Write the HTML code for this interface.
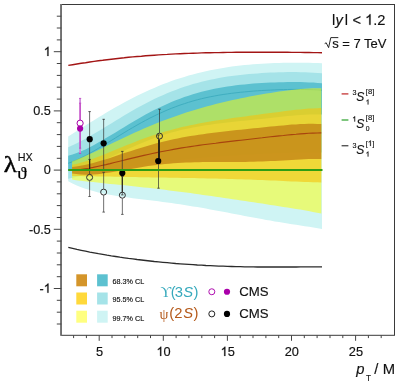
<!DOCTYPE html>
<html><head><meta charset="utf-8"><title>plot</title>
<style>html,body{margin:0;padding:0;background:#fff;}svg{display:block;will-change:transform;}text{font-kerning:normal;}</style>
</head><body>
<svg width="399" height="385" viewBox="0 0 399 385">
<rect x="0" y="0" width="399" height="385" fill="#fff"/>
<path d="M68.2,136.4 L72.5,133.7 L76.8,131.0 L81.1,128.3 L85.4,125.5 L89.7,122.8 L94.0,120.2 L98.3,117.5 L102.6,114.9 L106.9,112.3 L111.2,109.8 L115.5,107.3 L119.8,104.9 L124.1,102.5 L128.4,100.2 L132.7,98.0 L137.0,95.8 L141.3,93.7 L145.6,91.7 L149.9,89.7 L154.2,87.9 L158.5,86.1 L162.8,84.3 L167.1,82.7 L171.4,81.1 L175.7,79.6 L180.0,78.2 L184.3,76.9 L188.6,75.6 L192.9,74.4 L197.3,73.3 L201.6,72.2 L205.9,71.2 L210.2,70.3 L214.5,69.5 L218.8,68.7 L223.1,67.9 L227.4,67.2 L231.7,66.6 L236.0,66.1 L240.3,65.5 L244.6,65.1 L248.9,64.7 L253.2,64.3 L257.5,64.0 L261.8,63.7 L266.1,63.4 L270.4,63.2 L274.7,63.0 L279.0,62.9 L283.3,62.8 L287.6,62.7 L291.9,62.7 L296.2,62.7 L300.5,62.7 L304.8,62.8 L309.1,62.8 L313.4,63.0 L317.7,63.1 L322.0,63.3 L322.0,228.9 L317.7,228.2 L313.4,227.5 L309.1,226.8 L304.8,226.2 L300.5,225.5 L296.2,224.8 L291.9,224.2 L287.6,223.5 L283.3,222.8 L279.0,222.1 L274.7,221.4 L270.4,220.6 L266.1,219.9 L261.8,219.1 L257.5,218.3 L253.2,217.5 L248.9,216.7 L244.6,215.9 L240.3,215.1 L236.0,214.3 L231.7,213.5 L227.4,212.6 L223.1,211.8 L218.8,211.0 L214.5,210.2 L210.2,209.4 L205.9,208.6 L201.6,207.8 L197.3,207.1 L192.9,206.4 L188.6,205.7 L184.3,205.0 L180.0,204.3 L175.7,203.7 L171.4,203.1 L167.1,202.5 L162.8,201.9 L158.5,201.3 L154.2,200.8 L149.9,200.2 L145.6,199.7 L141.3,199.2 L137.0,198.7 L132.7,198.2 L128.4,197.6 L124.1,197.0 L119.8,196.4 L115.5,195.8 L111.2,195.0 L106.9,194.3 L102.6,193.4 L98.3,192.4 L94.0,191.3 L89.7,190.1 L85.4,188.7 L81.1,187.2 L76.8,185.4 L72.5,183.4 L68.2,181.2Z" fill="#cff4f4"/>
<path d="M68.2,147.2 L72.5,145.3 L76.8,143.3 L81.1,141.1 L85.4,138.8 L89.7,136.3 L94.0,133.8 L98.3,131.3 L102.6,128.7 L106.9,126.0 L111.2,123.4 L115.5,120.8 L119.8,118.2 L124.1,115.6 L128.4,113.0 L132.7,110.5 L137.0,108.1 L141.3,105.8 L145.6,103.5 L149.9,101.3 L154.2,99.1 L158.5,97.1 L162.8,95.2 L167.1,93.3 L171.4,91.6 L175.7,89.9 L180.0,88.3 L184.3,86.8 L188.6,85.4 L192.9,84.1 L197.3,82.9 L201.6,81.8 L205.9,80.7 L210.2,79.8 L214.5,78.9 L218.8,78.1 L223.1,77.3 L227.4,76.6 L231.7,76.0 L236.0,75.4 L240.3,74.9 L244.6,74.5 L248.9,74.0 L253.2,73.7 L257.5,73.4 L261.8,73.1 L266.1,72.8 L270.4,72.6 L274.7,72.4 L279.0,72.3 L283.3,72.2 L287.6,72.1 L291.9,72.1 L296.2,72.1 L300.5,72.2 L304.8,72.3 L309.1,72.4 L313.4,72.7 L317.7,73.0 L322.0,73.3 L322.0,152.5 L317.7,152.5 L313.4,152.5 L309.1,152.5 L304.8,152.5 L300.5,152.6 L296.2,152.7 L291.9,152.8 L287.6,152.9 L283.3,153.0 L279.0,153.2 L274.7,153.3 L270.4,153.5 L266.1,153.7 L261.8,153.9 L257.5,154.1 L253.2,154.4 L248.9,154.6 L244.6,154.8 L240.3,155.1 L236.0,155.4 L231.7,155.7 L227.4,156.0 L223.1,156.3 L218.8,156.6 L214.5,156.9 L210.2,157.2 L205.9,157.6 L201.6,158.0 L197.3,158.3 L192.9,158.7 L188.6,159.1 L184.3,159.6 L180.0,160.0 L175.7,160.5 L171.4,160.9 L167.1,161.4 L162.8,162.0 L158.5,162.5 L154.2,163.0 L149.9,163.6 L145.6,164.2 L141.3,164.8 L137.0,165.5 L132.7,166.1 L128.4,166.8 L124.1,167.5 L119.8,168.2 L115.5,169.0 L111.2,169.8 L106.9,170.6 L102.6,171.4 L98.3,172.3 L94.0,173.1 L89.7,174.0 L85.4,174.9 L81.1,175.9 L76.8,176.8 L72.5,177.8 L68.2,178.8Z" fill="#a5e3e8"/>
<path d="M68.2,155.8 L72.5,154.6 L76.8,153.1 L81.1,151.3 L85.4,149.4 L89.7,147.3 L94.0,145.0 L98.3,142.6 L102.6,140.1 L106.9,137.6 L111.2,135.0 L115.5,132.4 L119.8,129.8 L124.1,127.2 L128.4,124.6 L132.7,122.0 L137.0,119.5 L141.3,117.0 L145.6,114.6 L149.9,112.3 L154.2,110.1 L158.5,108.0 L162.8,105.9 L167.1,104.0 L171.4,102.1 L175.7,100.3 L180.0,98.7 L184.3,97.1 L188.6,95.7 L192.9,94.3 L197.3,93.0 L201.6,91.8 L205.9,90.8 L210.2,89.8 L214.5,88.8 L218.8,88.0 L223.1,87.2 L227.4,86.5 L231.7,85.9 L236.0,85.3 L240.3,84.8 L244.6,84.4 L248.9,84.0 L253.2,83.6 L257.5,83.3 L261.8,83.0 L266.1,82.8 L270.4,82.6 L274.7,82.4 L279.0,82.3 L283.3,82.2 L287.6,82.1 L291.9,82.1 L296.2,82.1 L300.5,82.1 L304.8,82.2 L309.1,82.4 L313.4,82.6 L317.7,82.9 L322.0,83.2 L322.0,114.5 L317.7,114.4 L313.4,114.4 L309.1,114.5 L304.8,114.7 L300.5,115.0 L296.2,115.3 L291.9,115.7 L287.6,116.1 L283.3,116.6 L279.0,117.0 L274.7,117.5 L270.4,118.0 L266.1,118.4 L261.8,118.9 L257.5,119.3 L253.2,119.8 L248.9,120.2 L244.6,120.7 L240.3,121.1 L236.0,121.6 L231.7,122.0 L227.4,122.5 L223.1,123.0 L218.8,123.5 L214.5,124.1 L210.2,124.7 L205.9,125.3 L201.6,126.0 L197.3,126.7 L192.9,127.5 L188.6,128.4 L184.3,129.3 L180.0,130.3 L175.7,131.4 L171.4,132.6 L167.1,133.8 L162.8,135.2 L158.5,136.6 L154.2,138.1 L149.9,139.7 L145.6,141.4 L141.3,143.2 L137.0,145.0 L132.7,146.9 L128.4,148.8 L124.1,150.8 L119.8,152.8 L115.5,154.8 L111.2,156.8 L106.9,158.8 L102.6,160.7 L98.3,162.6 L94.0,164.4 L89.7,166.0 L85.4,167.5 L81.1,168.8 L76.8,169.8 L72.5,170.6 L68.2,171.0Z" fill="#5cc1d0"/>
<path d="M68.2,163.3 L72.5,161.7 L76.8,159.9 L81.1,157.9 L85.4,155.7 L89.7,153.4 L94.0,150.9 L98.3,148.4 L102.6,145.8 L106.9,143.2 L111.2,140.6 L115.5,137.9 L119.8,135.3 L124.1,132.7 L128.4,130.1 L132.7,127.6 L137.0,125.1 L141.3,122.7 L145.6,120.4 L149.9,118.1 L154.2,116.0 L158.5,113.9 L162.8,112.0 L167.1,110.1 L171.4,108.3 L175.7,106.7 L180.0,105.1 L184.3,103.7 L188.6,102.3 L192.9,101.0 L197.3,99.8 L201.6,98.7 L205.9,97.7 L210.2,96.8 L214.5,96.0 L218.8,95.2 L223.1,94.5 L227.4,93.9 L231.7,93.3 L236.0,92.8 L240.3,92.3 L244.6,91.9 L248.9,91.5 L253.2,91.1 L257.5,90.8 L261.8,90.5 L266.1,90.3 L270.4,90.1 L274.7,89.9 L279.0,89.7 L283.3,89.6 L287.6,89.5 L291.9,89.4 L296.2,89.4 L300.5,89.4 L304.8,89.5 L309.1,89.6 L313.4,89.7 L317.7,89.9 L322.0,90.2" fill="none" stroke="#3faec0" stroke-width="1"/>
<path d="M72.1,161.5 L76.3,159.8 L80.5,158.1 L84.8,156.2 L89.0,154.3 L93.2,152.4 L97.4,150.4 L101.7,148.4 L105.9,146.3 L110.1,144.3 L114.3,142.2 L118.6,140.2 L122.8,138.2 L127.0,136.2 L131.2,134.2 L135.5,132.3 L139.7,130.4 L143.9,128.6 L148.1,126.7 L152.4,125.0 L156.6,123.3 L160.8,121.6 L165.0,120.0 L169.2,118.4 L173.5,116.9 L177.7,115.4 L181.9,114.0 L186.1,112.6 L190.4,111.2 L194.6,110.0 L198.8,108.7 L203.0,107.5 L207.3,106.3 L211.5,105.2 L215.7,104.1 L219.9,103.1 L224.2,102.1 L228.4,101.1 L232.6,100.1 L236.8,99.2 L241.0,98.3 L245.3,97.5 L249.5,96.6 L253.7,95.8 L257.9,95.1 L262.2,94.3 L266.4,93.6 L270.6,92.9 L274.8,92.2 L279.1,91.6 L283.3,91.0 L287.5,90.5 L291.7,90.0 L296.0,89.5 L300.2,89.1 L304.4,88.8 L308.6,88.5 L312.9,88.3 L317.1,88.2 L321.3,88.2 L321.3,213.5 L317.1,212.7 L312.9,211.9 L308.6,211.1 L304.4,210.3 L300.2,209.6 L296.0,208.9 L291.7,208.2 L287.5,207.5 L283.3,206.9 L279.1,206.2 L274.8,205.5 L270.6,204.9 L266.4,204.3 L262.2,203.6 L257.9,203.0 L253.7,202.3 L249.5,201.7 L245.3,201.1 L241.0,200.5 L236.8,199.8 L232.6,199.2 L228.4,198.6 L224.2,198.0 L219.9,197.3 L215.7,196.7 L211.5,196.1 L207.3,195.5 L203.0,194.9 L198.8,194.3 L194.6,193.7 L190.4,193.1 L186.1,192.6 L181.9,192.0 L177.7,191.5 L173.5,190.9 L169.2,190.4 L165.0,189.8 L160.8,189.3 L156.6,188.8 L152.4,188.3 L148.1,187.8 L143.9,187.4 L139.7,186.9 L135.5,186.5 L131.2,186.0 L127.0,185.6 L122.8,185.1 L118.6,184.7 L114.3,184.3 L110.1,183.9 L105.9,183.4 L101.7,183.0 L97.4,182.6 L93.2,182.1 L89.0,181.7 L84.8,181.2 L80.5,180.7 L76.3,180.2 L72.1,179.6Z" fill="#ffff00" fill-opacity="0.5"/>
<path d="M72.1,164.8 L76.3,163.9 L80.5,162.8 L84.8,161.6 L89.0,160.2 L93.2,158.7 L97.4,157.1 L101.7,155.5 L105.9,153.8 L110.1,152.1 L114.3,150.3 L118.6,148.6 L122.8,146.8 L127.0,145.1 L131.2,143.4 L135.5,141.8 L139.7,140.1 L143.9,138.6 L148.1,137.1 L152.4,135.6 L156.6,134.2 L160.8,132.9 L165.0,131.6 L169.2,130.4 L173.5,129.3 L177.7,128.2 L181.9,127.1 L186.1,126.2 L190.4,125.2 L194.6,124.4 L198.8,123.6 L203.0,122.8 L207.3,122.0 L211.5,121.3 L215.7,120.6 L219.9,120.0 L224.2,119.4 L228.4,118.7 L232.6,118.1 L236.8,117.6 L241.0,117.0 L245.3,116.4 L249.5,115.8 L253.7,115.3 L257.9,114.7 L262.2,114.1 L266.4,113.6 L270.6,113.0 L274.8,112.4 L279.1,111.9 L283.3,111.3 L287.5,110.8 L291.7,110.3 L296.0,109.8 L300.2,109.4 L304.4,109.0 L308.6,108.6 L312.9,108.4 L317.1,108.2 L321.3,108.1 L321.3,182.4 L317.1,182.3 L312.9,182.2 L308.6,182.0 L304.4,181.9 L300.2,181.7 L296.0,181.5 L291.7,181.4 L287.5,181.2 L283.3,181.0 L279.1,180.8 L274.8,180.6 L270.6,180.5 L266.4,180.3 L262.2,180.1 L257.9,179.9 L253.7,179.8 L249.5,179.6 L245.3,179.5 L241.0,179.3 L236.8,179.2 L232.6,179.1 L228.4,178.9 L224.2,178.8 L219.9,178.7 L215.7,178.6 L211.5,178.5 L207.3,178.4 L203.0,178.3 L198.8,178.2 L194.6,178.1 L190.4,178.1 L186.1,178.0 L181.9,177.9 L177.7,177.8 L173.5,177.8 L169.2,177.7 L165.0,177.6 L160.8,177.6 L156.6,177.5 L152.4,177.4 L148.1,177.3 L143.9,177.3 L139.7,177.2 L135.5,177.1 L131.2,177.0 L127.0,177.0 L122.8,176.9 L118.6,176.8 L114.3,176.7 L110.1,176.6 L105.9,176.5 L101.7,176.5 L97.4,176.4 L93.2,176.3 L89.0,176.2 L84.8,176.2 L80.5,176.1 L76.3,176.0 L72.1,176.0Z" fill="#f6c410" fill-opacity="0.62"/>
<path d="M72.1,166.9 L76.3,166.5 L80.5,165.8 L84.8,165.0 L89.0,164.1 L93.2,163.0 L97.4,161.8 L101.7,160.5 L105.9,159.2 L110.1,157.9 L114.3,156.5 L118.6,155.0 L122.8,153.6 L127.0,152.2 L131.2,150.9 L135.5,149.5 L139.7,148.2 L143.9,146.9 L148.1,145.7 L152.4,144.5 L156.6,143.3 L160.8,142.2 L165.0,141.2 L169.2,140.2 L173.5,139.3 L177.7,138.4 L181.9,137.6 L186.1,136.8 L190.4,136.1 L194.6,135.4 L198.8,134.8 L203.0,134.2 L207.3,133.6 L211.5,133.0 L215.7,132.5 L219.9,132.0 L224.2,131.5 L228.4,131.0 L232.6,130.6 L236.8,130.1 L241.0,129.7 L245.3,129.2 L249.5,128.8 L253.7,128.3 L257.9,127.9 L262.2,127.5 L266.4,127.0 L270.6,126.6 L274.8,126.2 L279.1,125.7 L283.3,125.4 L287.5,125.0 L291.7,124.6 L296.0,124.4 L300.2,124.1 L304.4,123.9 L308.6,123.8 L312.9,123.8 L317.1,123.9 L321.3,124.1 L321.3,159.1 L317.1,159.0 L312.9,159.0 L308.6,159.1 L304.4,159.3 L300.2,159.5 L296.0,159.7 L291.7,160.0 L287.5,160.2 L283.3,160.5 L279.1,160.7 L274.8,160.9 L270.6,161.1 L266.4,161.3 L262.2,161.5 L257.9,161.6 L253.7,161.7 L249.5,161.8 L245.3,161.9 L241.0,161.9 L236.8,162.0 L232.6,162.0 L228.4,162.0 L224.2,162.0 L219.9,162.0 L215.7,162.0 L211.5,162.0 L207.3,162.0 L203.0,162.1 L198.8,162.2 L194.6,162.3 L190.4,162.4 L186.1,162.6 L181.9,162.8 L177.7,163.0 L173.5,163.3 L169.2,163.7 L165.0,164.1 L160.8,164.5 L156.6,165.0 L152.4,165.6 L148.1,166.1 L143.9,166.8 L139.7,167.5 L135.5,168.2 L131.2,168.9 L127.0,169.6 L122.8,170.4 L118.6,171.1 L114.3,171.8 L110.1,172.5 L105.9,173.1 L101.7,173.7 L97.4,174.2 L93.2,174.5 L89.0,174.7 L84.8,174.7 L80.5,174.5 L76.3,174.1 L72.1,173.4Z" fill="#c07f14" fill-opacity="0.75"/>
<path d="M72.1,170.5 L76.3,170.1 L80.5,169.6 L84.8,168.9 L89.0,168.2 L93.2,167.4 L97.4,166.5 L101.7,165.5 L105.9,164.6 L110.1,163.6 L114.3,162.5 L118.6,161.5 L122.8,160.5 L127.0,159.4 L131.2,158.4 L135.5,157.4 L139.7,156.4 L143.9,155.4 L148.1,154.5 L152.4,153.5 L156.6,152.6 L160.8,151.8 L165.0,151.0 L169.2,150.2 L173.5,149.4 L177.7,148.6 L181.9,147.9 L186.1,147.3 L190.4,146.6 L194.6,146.0 L198.8,145.4 L203.0,144.8 L207.3,144.2 L211.5,143.7 L215.7,143.2 L219.9,142.6 L224.2,142.1 L228.4,141.6 L232.6,141.1 L236.8,140.6 L241.0,140.2 L245.3,139.7 L249.5,139.2 L253.7,138.7 L257.9,138.2 L262.2,137.8 L266.4,137.3 L270.6,136.8 L274.8,136.4 L279.1,135.9 L283.3,135.5 L287.5,135.0 L291.7,134.6 L296.0,134.3 L300.2,133.9 L304.4,133.6 L308.6,133.3 L312.9,133.1 L317.1,133.0 L321.3,132.9" fill="none" stroke="#a8440e" stroke-width="1.1"/>
<path d="M68.3,65.4 L72.6,64.7 L76.9,64.0 L81.2,63.3 L85.5,62.7 L89.8,62.0 L94.1,61.4 L98.4,60.8 L102.7,60.3 L107.0,59.7 L111.3,59.2 L115.6,58.7 L119.9,58.2 L124.2,57.8 L128.5,57.3 L132.8,56.9 L137.1,56.5 L141.4,56.2 L145.7,55.8 L150.0,55.5 L154.3,55.2 L158.6,54.9 L162.9,54.6 L167.2,54.4 L171.5,54.1 L175.8,53.9 L180.1,53.7 L184.4,53.5 L188.7,53.4 L193.0,53.2 L197.3,53.1 L201.6,52.9 L205.9,52.8 L210.2,52.7 L214.5,52.6 L218.8,52.6 L223.1,52.5 L227.4,52.4 L231.7,52.4 L236.0,52.3 L240.3,52.3 L244.6,52.3 L248.9,52.3 L253.2,52.3 L257.5,52.2 L261.8,52.2 L266.1,52.3 L270.4,52.3 L274.7,52.3 L279.0,52.3 L283.3,52.3 L287.6,52.3 L291.9,52.4 L296.2,52.4 L300.5,52.4 L304.8,52.5 L309.1,52.5 L313.4,52.6 L317.7,52.6 L322.0,52.7" fill="none" stroke="#a31515" stroke-width="1.4"/>
<path d="M68.3,247.4 L72.6,248.4 L76.9,249.4 L81.2,250.3 L85.5,251.2 L89.8,252.1 L94.1,252.9 L98.4,253.7 L102.7,254.4 L107.0,255.2 L111.3,255.9 L115.6,256.5 L119.9,257.2 L124.2,257.8 L128.5,258.4 L132.8,258.9 L137.1,259.5 L141.4,260.0 L145.7,260.5 L150.0,261.0 L154.3,261.5 L158.6,261.9 L162.9,262.3 L167.2,262.7 L171.5,263.1 L175.8,263.5 L180.1,263.8 L184.4,264.1 L188.7,264.4 L193.0,264.7 L197.3,265.0 L201.6,265.2 L205.9,265.5 L210.2,265.7 L214.5,265.9 L218.8,266.1 L223.1,266.2 L227.4,266.4 L231.7,266.5 L236.0,266.6 L240.3,266.7 L244.6,266.8 L248.9,266.9 L253.2,266.9 L257.5,267.0 L261.8,267.0 L266.1,267.0 L270.4,267.0 L274.7,267.0 L279.0,267.0 L283.3,267.0 L287.6,267.0 L291.9,267.0 L296.2,267.0 L300.5,266.9 L304.8,266.9 L309.1,266.9 L313.4,266.9 L317.7,266.9 L322.0,266.9" fill="none" stroke="#2b2b2b" stroke-width="1.35"/>
<line x1="80.1" y1="98.4" x2="80.1" y2="103.2" stroke="#cf86dc" stroke-width="1.7"/>
<line x1="80.1" y1="148.2" x2="80.1" y2="153.4" stroke="#cf86dc" stroke-width="1.7"/>
<line x1="80.1" y1="103.2" x2="80.1" y2="119.9" stroke="#c44fc8" stroke-width="1.7"/>
<line x1="80.1" y1="131" x2="80.1" y2="148.2" stroke="#c44fc8" stroke-width="1.7"/>
<line x1="79.0" y1="98.4" x2="81.2" y2="98.4" stroke="#b838bc" stroke-width="0.8"/>
<line x1="79.0" y1="103.2" x2="81.2" y2="103.2" stroke="#b838bc" stroke-width="0.8"/>
<line x1="79.0" y1="148.2" x2="81.2" y2="148.2" stroke="#b838bc" stroke-width="0.8"/>
<line x1="79.0" y1="153.4" x2="81.2" y2="153.4" stroke="#b838bc" stroke-width="0.8"/>
<circle cx="80.1" cy="123.2" r="3.1" fill="none" stroke="#a800a8" stroke-width="1"/>
<circle cx="80.1" cy="128.6" r="3.1" fill="#a800a8"/>
<line x1="89.6" y1="159.4" x2="89.6" y2="174.1" stroke="#303030" stroke-width="0.7"/>
<line x1="89.6" y1="180.70000000000002" x2="89.6" y2="196.5" stroke="#303030" stroke-width="0.7"/>
<line x1="88.3" y1="159.4" x2="90.89999999999999" y2="159.4" stroke="#303030" stroke-width="0.7"/>
<line x1="88.3" y1="196.5" x2="90.89999999999999" y2="196.5" stroke="#303030" stroke-width="0.7"/>
<line x1="103.65" y1="172.3" x2="103.65" y2="188.79999999999998" stroke="#303030" stroke-width="0.7"/>
<line x1="103.65" y1="195.4" x2="103.65" y2="212.1" stroke="#303030" stroke-width="0.7"/>
<line x1="102.35000000000001" y1="172.3" x2="104.95" y2="172.3" stroke="#303030" stroke-width="0.7"/>
<line x1="102.35000000000001" y1="212.1" x2="104.95" y2="212.1" stroke="#303030" stroke-width="0.7"/>
<line x1="122.35" y1="176.5" x2="122.35" y2="191.89999999999998" stroke="#303030" stroke-width="0.7"/>
<line x1="122.35" y1="198.5" x2="122.35" y2="214.4" stroke="#303030" stroke-width="0.7"/>
<line x1="121.05" y1="176.5" x2="123.64999999999999" y2="176.5" stroke="#303030" stroke-width="0.7"/>
<line x1="121.05" y1="214.4" x2="123.64999999999999" y2="214.4" stroke="#303030" stroke-width="0.7"/>
<line x1="159.5" y1="109.2" x2="159.5" y2="132.79999999999998" stroke="#303030" stroke-width="0.7"/>
<line x1="159.5" y1="139.4" x2="159.5" y2="163" stroke="#303030" stroke-width="0.7"/>
<line x1="158.2" y1="109.2" x2="160.8" y2="109.2" stroke="#303030" stroke-width="0.7"/>
<line x1="158.2" y1="163" x2="160.8" y2="163" stroke="#303030" stroke-width="0.7"/>
<line x1="89.6" y1="111.6" x2="89.6" y2="169.6" stroke="#303030" stroke-width="0.7"/>
<line x1="88.39999999999999" y1="111.6" x2="90.8" y2="111.6" stroke="#303030" stroke-width="0.8"/>
<line x1="88.39999999999999" y1="169.6" x2="90.8" y2="169.6" stroke="#303030" stroke-width="0.8"/>
<line x1="103.65" y1="119.3" x2="103.65" y2="169.6" stroke="#303030" stroke-width="0.7"/>
<line x1="102.45" y1="119.3" x2="104.85000000000001" y2="119.3" stroke="#303030" stroke-width="0.8"/>
<line x1="102.45" y1="169.6" x2="104.85000000000001" y2="169.6" stroke="#303030" stroke-width="0.8"/>
<line x1="122.3" y1="151.4" x2="122.3" y2="194.9" stroke="#303030" stroke-width="0.7"/>
<line x1="121.1" y1="151.4" x2="123.5" y2="151.4" stroke="#303030" stroke-width="0.8"/>
<line x1="121.1" y1="194.9" x2="123.5" y2="194.9" stroke="#303030" stroke-width="0.8"/>
<line x1="158.5" y1="134.9" x2="158.5" y2="188.2" stroke="#303030" stroke-width="0.7"/>
<line x1="157.3" y1="134.9" x2="159.7" y2="134.9" stroke="#303030" stroke-width="0.8"/>
<line x1="157.3" y1="188.2" x2="159.7" y2="188.2" stroke="#303030" stroke-width="0.8"/>
<line x1="159.0" y1="139.6" x2="159.0" y2="158.5" stroke="#2a2416" stroke-width="1.9"/>
<line x1="89.6" y1="159.6" x2="89.6" y2="169" stroke="#2a2416" stroke-width="1.2"/>
<line x1="122.3" y1="177" x2="122.3" y2="191.9" stroke="#2a2416" stroke-width="0.9"/>
<circle cx="89.6" cy="177.4" r="3.0" fill="none" stroke="#303030" stroke-width="1"/>
<circle cx="103.65" cy="192.1" r="3.0" fill="none" stroke="#303030" stroke-width="1"/>
<circle cx="122.35" cy="195.2" r="3.0" fill="none" stroke="#303030" stroke-width="1"/>
<circle cx="159.5" cy="136.1" r="3.0" fill="none" stroke="#303030" stroke-width="1"/>
<circle cx="89.7" cy="139.2" r="3.1" fill="#000"/>
<circle cx="103.65" cy="143.3" r="3.1" fill="#000"/>
<circle cx="122.3" cy="173.1" r="3.1" fill="#000"/>
<circle cx="158.2" cy="161.0" r="3.1" fill="#000"/>
<line x1="68.2" y1="170" x2="322.5" y2="170" stroke="#2f9e14" stroke-width="1.8"/>
<rect x="61.3" y="4.5" width="333.2" height="330.8" fill="none" stroke="#3a3a3a" stroke-width="1"/>
<line x1="61.05" y1="4.0" x2="61.05" y2="335.8" stroke="#707070" stroke-width="1.9"/>
<line x1="56.8" y1="324.0" x2="61.3" y2="324.0" stroke="#444" stroke-width="1"/>
<line x1="56.8" y1="312.2" x2="61.3" y2="312.2" stroke="#444" stroke-width="1"/>
<line x1="56.8" y1="300.3" x2="61.3" y2="300.3" stroke="#444" stroke-width="1"/>
<line x1="53.8" y1="288.5" x2="61.3" y2="288.5" stroke="#444" stroke-width="1"/>
<line x1="56.8" y1="276.7" x2="61.3" y2="276.7" stroke="#444" stroke-width="1"/>
<line x1="56.8" y1="264.8" x2="61.3" y2="264.8" stroke="#444" stroke-width="1"/>
<line x1="56.8" y1="253.0" x2="61.3" y2="253.0" stroke="#444" stroke-width="1"/>
<line x1="56.8" y1="241.1" x2="61.3" y2="241.1" stroke="#444" stroke-width="1"/>
<line x1="53.8" y1="229.3" x2="61.3" y2="229.3" stroke="#444" stroke-width="1"/>
<line x1="56.8" y1="217.5" x2="61.3" y2="217.5" stroke="#444" stroke-width="1"/>
<line x1="56.8" y1="205.6" x2="61.3" y2="205.6" stroke="#444" stroke-width="1"/>
<line x1="56.8" y1="193.8" x2="61.3" y2="193.8" stroke="#444" stroke-width="1"/>
<line x1="56.8" y1="181.9" x2="61.3" y2="181.9" stroke="#444" stroke-width="1"/>
<line x1="53.8" y1="170.1" x2="61.3" y2="170.1" stroke="#444" stroke-width="1"/>
<line x1="56.8" y1="158.3" x2="61.3" y2="158.3" stroke="#444" stroke-width="1"/>
<line x1="56.8" y1="146.4" x2="61.3" y2="146.4" stroke="#444" stroke-width="1"/>
<line x1="56.8" y1="134.6" x2="61.3" y2="134.6" stroke="#444" stroke-width="1"/>
<line x1="56.8" y1="122.7" x2="61.3" y2="122.7" stroke="#444" stroke-width="1"/>
<line x1="53.8" y1="110.9" x2="61.3" y2="110.9" stroke="#444" stroke-width="1"/>
<line x1="56.8" y1="99.1" x2="61.3" y2="99.1" stroke="#444" stroke-width="1"/>
<line x1="56.8" y1="87.2" x2="61.3" y2="87.2" stroke="#444" stroke-width="1"/>
<line x1="56.8" y1="75.4" x2="61.3" y2="75.4" stroke="#444" stroke-width="1"/>
<line x1="56.8" y1="63.5" x2="61.3" y2="63.5" stroke="#444" stroke-width="1"/>
<line x1="53.8" y1="51.7" x2="61.3" y2="51.7" stroke="#444" stroke-width="1"/>
<line x1="56.8" y1="39.9" x2="61.3" y2="39.9" stroke="#444" stroke-width="1"/>
<line x1="56.8" y1="28.0" x2="61.3" y2="28.0" stroke="#444" stroke-width="1"/>
<line x1="56.8" y1="16.2" x2="61.3" y2="16.2" stroke="#444" stroke-width="1"/>
<line x1="73.6" y1="335.3" x2="73.6" y2="338.1" stroke="#444" stroke-width="1"/>
<line x1="86.4" y1="335.3" x2="86.4" y2="338.1" stroke="#444" stroke-width="1"/>
<line x1="99.2" y1="335.3" x2="99.2" y2="340.8" stroke="#444" stroke-width="1"/>
<line x1="112.0" y1="335.3" x2="112.0" y2="338.1" stroke="#444" stroke-width="1"/>
<line x1="124.8" y1="335.3" x2="124.8" y2="338.1" stroke="#444" stroke-width="1"/>
<line x1="137.7" y1="335.3" x2="137.7" y2="338.1" stroke="#444" stroke-width="1"/>
<line x1="150.5" y1="335.3" x2="150.5" y2="338.1" stroke="#444" stroke-width="1"/>
<line x1="163.3" y1="335.3" x2="163.3" y2="340.8" stroke="#444" stroke-width="1"/>
<line x1="176.1" y1="335.3" x2="176.1" y2="338.1" stroke="#444" stroke-width="1"/>
<line x1="188.9" y1="335.3" x2="188.9" y2="338.1" stroke="#444" stroke-width="1"/>
<line x1="201.8" y1="335.3" x2="201.8" y2="338.1" stroke="#444" stroke-width="1"/>
<line x1="214.6" y1="335.3" x2="214.6" y2="338.1" stroke="#444" stroke-width="1"/>
<line x1="227.4" y1="335.3" x2="227.4" y2="340.8" stroke="#444" stroke-width="1"/>
<line x1="240.2" y1="335.3" x2="240.2" y2="338.1" stroke="#444" stroke-width="1"/>
<line x1="253.0" y1="335.3" x2="253.0" y2="338.1" stroke="#444" stroke-width="1"/>
<line x1="265.9" y1="335.3" x2="265.9" y2="338.1" stroke="#444" stroke-width="1"/>
<line x1="278.7" y1="335.3" x2="278.7" y2="338.1" stroke="#444" stroke-width="1"/>
<line x1="291.5" y1="335.3" x2="291.5" y2="340.8" stroke="#444" stroke-width="1"/>
<line x1="304.3" y1="335.3" x2="304.3" y2="338.1" stroke="#444" stroke-width="1"/>
<line x1="317.1" y1="335.3" x2="317.1" y2="338.1" stroke="#444" stroke-width="1"/>
<line x1="330.0" y1="335.3" x2="330.0" y2="338.1" stroke="#444" stroke-width="1"/>
<line x1="342.8" y1="335.3" x2="342.8" y2="338.1" stroke="#444" stroke-width="1"/>
<line x1="355.6" y1="335.3" x2="355.6" y2="340.8" stroke="#444" stroke-width="1"/>
<line x1="368.4" y1="335.3" x2="368.4" y2="338.1" stroke="#444" stroke-width="1"/>
<line x1="381.2" y1="335.3" x2="381.2" y2="338.1" stroke="#444" stroke-width="1"/>
<path transform="translate(43.74,55.90) scale(0.00620,-0.00620)" d="M763 0H583V1147Q518 1085 412.5 1023T223 930V1104Q373 1174.5 485 1275T644 1470H763Z" fill="#111" stroke="#111" stroke-width="0.25" vector-effect="non-scaling-stroke"/>
<text x="33.15" y="115.10" font-family="Liberation Sans, sans-serif" font-size="12.7" fill="#111" stroke="#111" stroke-width="0.15">0</text>
<text x="40.21" y="115.10" font-family="Liberation Sans, sans-serif" font-size="12.7" fill="#111" stroke="#111" stroke-width="0.15">.</text>
<text x="43.74" y="115.10" font-family="Liberation Sans, sans-serif" font-size="12.7" fill="#111" stroke="#111" stroke-width="0.15">5</text>
<text x="43.74" y="174.30" font-family="Liberation Sans, sans-serif" font-size="12.7" fill="#111" stroke="#111" stroke-width="0.15">0</text>
<text x="28.92" y="233.50" font-family="Liberation Sans, sans-serif" font-size="12.7" fill="#111" stroke="#111" stroke-width="0.15">-</text>
<text x="33.15" y="233.50" font-family="Liberation Sans, sans-serif" font-size="12.7" fill="#111" stroke="#111" stroke-width="0.15">0</text>
<text x="40.21" y="233.50" font-family="Liberation Sans, sans-serif" font-size="12.7" fill="#111" stroke="#111" stroke-width="0.15">.</text>
<text x="43.74" y="233.50" font-family="Liberation Sans, sans-serif" font-size="12.7" fill="#111" stroke="#111" stroke-width="0.15">5</text>
<text x="39.51" y="292.70" font-family="Liberation Sans, sans-serif" font-size="12.7" fill="#111" stroke="#111" stroke-width="0.15">-</text>
<path transform="translate(43.74,292.70) scale(0.00620,-0.00620)" d="M763 0H583V1147Q518 1085 412.5 1023T223 930V1104Q373 1174.5 485 1275T644 1470H763Z" fill="#111" stroke="#111" stroke-width="0.25" vector-effect="non-scaling-stroke"/>
<text x="95.94" y="355.90" font-family="Liberation Sans, sans-serif" font-size="12.8" fill="#111" stroke="#111" stroke-width="0.15">5</text>
<path transform="translate(156.48,355.90) scale(0.00625,-0.00625)" d="M763 0H583V1147Q518 1085 412.5 1023T223 930V1104Q373 1174.5 485 1275T644 1470H763Z" fill="#111" stroke="#111" stroke-width="0.25" vector-effect="non-scaling-stroke"/>
<text x="163.60" y="355.90" font-family="Liberation Sans, sans-serif" font-size="12.8" fill="#111" stroke="#111" stroke-width="0.15">0</text>
<path transform="translate(220.58,355.90) scale(0.00625,-0.00625)" d="M763 0H583V1147Q518 1085 412.5 1023T223 930V1104Q373 1174.5 485 1275T644 1470H763Z" fill="#111" stroke="#111" stroke-width="0.25" vector-effect="non-scaling-stroke"/>
<text x="227.70" y="355.90" font-family="Liberation Sans, sans-serif" font-size="12.8" fill="#111" stroke="#111" stroke-width="0.15">5</text>
<text x="284.68" y="355.90" font-family="Liberation Sans, sans-serif" font-size="12.8" fill="#111" stroke="#111" stroke-width="0.15">2</text>
<text x="291.80" y="355.90" font-family="Liberation Sans, sans-serif" font-size="12.8" fill="#111" stroke="#111" stroke-width="0.15">0</text>
<text x="348.78" y="355.90" font-family="Liberation Sans, sans-serif" font-size="12.8" fill="#111" stroke="#111" stroke-width="0.15">2</text>
<text x="355.90" y="355.90" font-family="Liberation Sans, sans-serif" font-size="12.8" fill="#111" stroke="#111" stroke-width="0.15">5</text>
<text x="332.1" y="24.8" font-family="Liberation Sans, sans-serif" font-size="14.7" fill="#111" stroke="#111" stroke-width="0.15">l</text>
<text x="335.6" y="24.8" font-family="Liberation Sans, sans-serif" font-size="14.7" font-style="italic" fill="#111" stroke="#111" stroke-width="0.15">y</text>
<text x="344.7" y="24.8" font-family="Liberation Sans, sans-serif" font-size="14.7" fill="#111" stroke="#111" stroke-width="0.15">l</text>
<text x="352.6" y="24.8" font-family="Liberation Sans, sans-serif" font-size="14.7" fill="#111" stroke="#111" stroke-width="0.15">&lt;</text>
<path transform="translate(365.07,24.80) scale(0.00718,-0.00718)" d="M763 0H583V1147Q518 1085 412.5 1023T223 930V1104Q373 1174.5 485 1275T644 1470H763Z" fill="#111" stroke="#111" stroke-width="0.25" vector-effect="non-scaling-stroke"/>
<text x="373.24" y="24.80" font-family="Liberation Sans, sans-serif" font-size="14.7" fill="#111" stroke="#111" stroke-width="0.15">.</text>
<text x="377.33" y="24.80" font-family="Liberation Sans, sans-serif" font-size="14.7" fill="#111" stroke="#111" stroke-width="0.15">2</text>
<text x="332.2" y="48" font-family="Liberation Sans, sans-serif" font-size="13" fill="#111" stroke="#111" stroke-width="0.15">s = 7 TeV</text>
<path d="M324.7,43.6 L326.2,42.8 L328.6,47.6 L330.8,37.6 L338.3,37.6" fill="none" stroke="#111" stroke-width="0.9"/>
<line x1="341.6" y1="93.9" x2="348.4" y2="93.9" stroke="#c43434" stroke-width="1.3"/>
<text x="352.40" y="95.40" font-family="Liberation Sans, sans-serif" font-size="7.2" fill="#111" stroke="#111" stroke-width="0.15">3</text>
<text x="356.2" y="101.4" font-family="Liberation Sans, sans-serif" font-size="12" font-style="italic" fill="#111" stroke="#111" stroke-width="0.15">S</text>
<text x="365.8" y="93.8" font-family="Liberation Sans, sans-serif" font-size="7.6" fill="#111" stroke="#111" stroke-width="0.15">[</text>
<text x="367.91" y="93.80" font-family="Liberation Sans, sans-serif" font-size="7.6" fill="#111" stroke="#111" stroke-width="0.15">8</text>
<text x="372.14" y="93.8" font-family="Liberation Sans, sans-serif" font-size="7.6" fill="#111" stroke="#111" stroke-width="0.15">]</text>
<path transform="translate(365.80,104.40) scale(0.00332,-0.00332)" d="M763 0H583V1147Q518 1085 412.5 1023T223 930V1104Q373 1174.5 485 1275T644 1470H763Z" fill="#111" stroke="#111" stroke-width="0.25" vector-effect="non-scaling-stroke"/>
<line x1="341.6" y1="120.0" x2="348.4" y2="120.0" stroke="#38a838" stroke-width="1.3"/>
<path transform="translate(352.40,121.50) scale(0.00352,-0.00352)" d="M763 0H583V1147Q518 1085 412.5 1023T223 930V1104Q373 1174.5 485 1275T644 1470H763Z" fill="#111" stroke="#111" stroke-width="0.25" vector-effect="non-scaling-stroke"/>
<text x="356.2" y="127.5" font-family="Liberation Sans, sans-serif" font-size="12" font-style="italic" fill="#111" stroke="#111" stroke-width="0.15">S</text>
<text x="365.8" y="119.9" font-family="Liberation Sans, sans-serif" font-size="7.6" fill="#111" stroke="#111" stroke-width="0.15">[</text>
<text x="367.91" y="119.90" font-family="Liberation Sans, sans-serif" font-size="7.6" fill="#111" stroke="#111" stroke-width="0.15">8</text>
<text x="372.14" y="119.9" font-family="Liberation Sans, sans-serif" font-size="7.6" fill="#111" stroke="#111" stroke-width="0.15">]</text>
<text x="365.80" y="130.50" font-family="Liberation Sans, sans-serif" font-size="6.8" fill="#111" stroke="#111" stroke-width="0.15">0</text>
<line x1="341.6" y1="145.8" x2="348.4" y2="145.8" stroke="#111" stroke-width="1.0"/>
<text x="352.40" y="147.50" font-family="Liberation Sans, sans-serif" font-size="7.2" fill="#111" stroke="#111" stroke-width="0.15">3</text>
<text x="356.2" y="153.5" font-family="Liberation Sans, sans-serif" font-size="12" font-style="italic" fill="#111" stroke="#111" stroke-width="0.15">S</text>
<text x="365.8" y="145.9" font-family="Liberation Sans, sans-serif" font-size="7.6" fill="#111" stroke="#111" stroke-width="0.15">[</text>
<path transform="translate(367.91,145.90) scale(0.00371,-0.00371)" d="M763 0H583V1147Q518 1085 412.5 1023T223 930V1104Q373 1174.5 485 1275T644 1470H763Z" fill="#111" stroke="#111" stroke-width="0.25" vector-effect="non-scaling-stroke"/>
<text x="372.14" y="145.9" font-family="Liberation Sans, sans-serif" font-size="7.6" fill="#111" stroke="#111" stroke-width="0.15">]</text>
<path transform="translate(365.80,156.50) scale(0.00332,-0.00332)" d="M763 0H583V1147Q518 1085 412.5 1023T223 930V1104Q373 1174.5 485 1275T644 1470H763Z" fill="#111" stroke="#111" stroke-width="0.25" vector-effect="non-scaling-stroke"/>
<text transform="translate(3.8,172) scale(1.22,1.04)" x="0" y="0" font-family="Liberation Serif, serif" font-size="22" fill="#000" stroke="#000" stroke-width="0.45">λ</text>
<text x="17.7" y="160.6" font-family="Liberation Sans, sans-serif" font-size="10.8" fill="#111" stroke="#111" stroke-width="0.15">HX</text>
<text transform="translate(16.9,178.8) scale(1.2,1)" x="0" y="0" font-family="Liberation Serif, serif" font-size="16.5" fill="#000" stroke="#000" stroke-width="0.15">ϑ</text>
<text x="356.2" y="373.8" font-family="Liberation Sans, sans-serif" font-size="14.8" font-style="italic" fill="#111" stroke="#111" stroke-width="0.15">p</text>
<text x="366" y="381.4" font-family="Liberation Sans, sans-serif" font-size="8.2" fill="#111" stroke="#111" stroke-width="0.15">T</text>
<text x="374.3" y="373.8" font-family="Liberation Sans, sans-serif" font-size="14.8" fill="#111" stroke="#111" stroke-width="0.15">/</text>
<text x="382.8" y="373.8" font-family="Liberation Sans, sans-serif" font-size="14.8" fill="#111" stroke="#111" stroke-width="0.15">M</text>
<rect x="76.3" y="274.3" width="10.7" height="12" fill="#d4952a"/>
<rect x="97.1" y="274.3" width="10.6" height="12" fill="#5cc1d0"/>
<text x="112.6" y="284.2" font-family="Liberation Sans, sans-serif" font-size="7.2" fill="#111" stroke="#111" stroke-width="0.15">68.3% CL</text>
<rect x="76.3" y="292.5" width="10.7" height="12" fill="#ffd93b"/>
<rect x="97.1" y="292.5" width="10.6" height="12" fill="#a5e3e8"/>
<text x="112.6" y="302.4" font-family="Liberation Sans, sans-serif" font-size="7.2" fill="#111" stroke="#111" stroke-width="0.15">95.5% CL</text>
<rect x="76.3" y="310.7" width="10.7" height="12" fill="#ffff80"/>
<rect x="97.1" y="310.7" width="10.6" height="12" fill="#cff4f4"/>
<text x="112.6" y="320.6" font-family="Liberation Sans, sans-serif" font-size="7.2" fill="#111" stroke="#111" stroke-width="0.15">99.7% CL</text>
<text x="160.5" y="296.5" font-family="Liberation Serif, serif" font-size="14.8" fill="#36a9bc">ϒ</text>
<text x="170.8" y="296.6" font-family="Liberation Sans, sans-serif" font-size="14.8" fill="#36a9bc">(</text>
<text x="174.8" y="296.6" font-family="Liberation Sans, sans-serif" font-size="14.8" fill="#36a9bc">3</text>
<text x="183.2" y="296.6" font-family="Liberation Sans, sans-serif" font-size="14.8" font-style="italic" fill="#36a9bc">S</text>
<text x="193.5" y="296.6" font-family="Liberation Sans, sans-serif" font-size="14.8" fill="#36a9bc">)</text>
<text x="159.4" y="318.9" font-family="Liberation Serif, serif" font-size="14.2" fill="#b4591a">ψ</text>
<text x="169.2" y="317.5" font-family="Liberation Sans, sans-serif" font-size="14.8" fill="#b4591a">(</text>
<text x="174.2" y="317.5" font-family="Liberation Sans, sans-serif" font-size="14.8" fill="#b4591a">2</text>
<text x="183.2" y="317.5" font-family="Liberation Sans, sans-serif" font-size="14.8" font-style="italic" fill="#b4591a">S</text>
<text x="193.5" y="317.5" font-family="Liberation Sans, sans-serif" font-size="14.8" fill="#b4591a">)</text>
<circle cx="211.8" cy="291.75" r="3.0" fill="none" stroke="#b010b0" stroke-width="1"/>
<circle cx="227" cy="291.75" r="3.1" fill="#aa00aa"/>
<circle cx="211.8" cy="313.9" r="3.0" fill="none" stroke="#222" stroke-width="1"/>
<circle cx="227" cy="313.9" r="3.1" fill="#000"/>
<text x="239.2" y="296.2" font-family="Liberation Sans, sans-serif" font-size="13.2" fill="#111" stroke="#111" stroke-width="0.15">CMS</text>
<text x="239.2" y="317.8" font-family="Liberation Sans, sans-serif" font-size="13.2" fill="#111" stroke="#111" stroke-width="0.15">CMS</text>
</svg>
</body></html>
